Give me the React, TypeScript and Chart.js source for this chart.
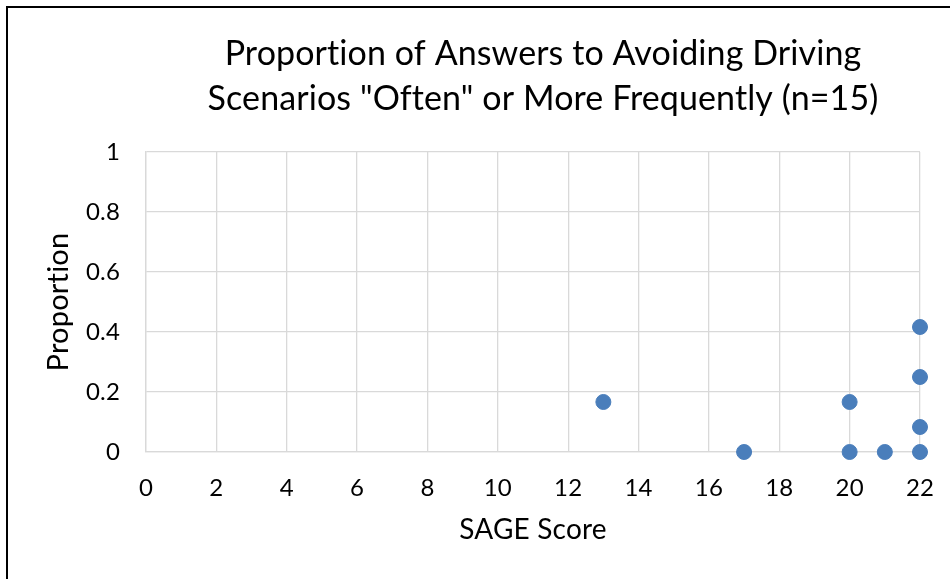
import React, { useEffect, useRef } from "react";
import { Chart, registerables } from "chart.js";

Chart.register(...registerables);

const titleLines = ["Proportion of Answers to Avoiding Driving", 'Scenarios "Often" or More Frequently (n=15)'];
const xAxisTitle = "SAGE Score";
const yAxisTitle = "Proportion";
const sageScores = [13, 17, 20, 20, 21, 22, 22, 22, 22];
const proportions = [0.1667, 0, 0.1667, 0, 0, 0.4167, 0.25, 0.0833, 0];
const xMin = 0, xMax = 22, xStep = 2;
const yMin = 0, yMax = 1, yStep = 0.2;

const FONT = "Lato, Carlito, Calibri, 'Open Sans', sans-serif";

const framePlugin = {
  id: "frameAndTitle",
  beforeDraw(chart: any) {
    try { chart.ctx.letterSpacing = "0.2px"; } catch (e) {}
  },
  afterDraw(chart: any) {
    const ctx = chart.ctx;
    ctx.save();
    ctx.fillStyle = "#000000";
    ctx.fillRect(6, 6, 2, chart.height - 6);
    ctx.fillRect(6, 6, chart.width - 6, 2);
    ctx.font = `34px ${FONT}`;
    try { ctx.letterSpacing = "0.1px"; } catch (e) {}
    ctx.textAlign = "center";
    ctx.textBaseline = "alphabetic";
    ctx.fillText(titleLines[0], 543, 65);
    ctx.fillText(titleLines[1], 543, 110);
    ctx.restore();
  },
};

export default function App() {
  const ref = useRef<HTMLCanvasElement | null>(null);
  useEffect(() => {
    document.body.style.margin = "0";
    const canvas = ref.current;
    if (!canvas) return;
    const chart = new Chart(canvas, {
      type: "scatter",
      data: {
        datasets: [
          {
            label: "Proportion",
            data: sageScores.map((x, i) => ({ x, y: proportions[i] })),
            backgroundColor: "#4A7EBB",
            borderColor: "#4A7EBB",
            pointRadius: 7.5,
            pointHoverRadius: 7.5,
            clip: false,
          },
        ],
      },
      options: {
        animation: false,
        responsive: false,
        maintainAspectRatio: false,
        layout: { autoPadding: false, padding: { top: 152, right: 30, bottom: 0, left: 0 } },
        plugins: { legend: { display: false }, title: { display: false }, tooltip: { enabled: false } },
        scales: {
          x: {
            type: "linear",
            min: xMin,
            max: xMax,
            afterFit: (s: any) => { s.height = 127; s.paddingLeft = 0; s.paddingRight = 0; },
            ticks: { stepSize: xStep, color: "#000000", font: { family: FONT, size: 24 }, padding: 22, maxRotation: 0 },
            grid: { color: "#D9D9D9", lineWidth: 1.3, drawTicks: false },
            border: { color: "#D9D9D9", width: 1.3 },
            title: { display: true, text: xAxisTitle, color: "#000000", font: { family: FONT, size: 28 }, padding: { top: 0, bottom: 32 } },
          },
          y: {
            type: "linear",
            min: yMin,
            max: yMax,
            afterFit: (s: any) => { s.width = 146; s.paddingTop = 0; s.paddingBottom = 0; },
            ticks: {
              stepSize: yStep,
              color: "#000000",
              font: { family: FONT, size: 24 },
              padding: 26,
              callback: (v: any) => `${Math.round(Number(v) * 10) / 10}`,
            },
            grid: { color: "#D9D9D9", lineWidth: 1.3, drawTicks: false },
            border: { color: "#D9D9D9", width: 1.3 },
            title: { display: true, text: yAxisTitle, color: "#000000", font: { family: FONT, size: 29 }, padding: { top: 41, bottom: 0 } },
          },
        },
      },
      plugins: [framePlugin],
    });
    return () => chart.destroy();
  }, []);
  return (
    <div style={{ position: "absolute", left: 0, top: 0, width: 950, height: 579, background: "#ffffff" }}>
      <canvas ref={ref} width={950} height={579} style={{ width: 950, height: 579, display: "block" }} />
    </div>
  );
}
